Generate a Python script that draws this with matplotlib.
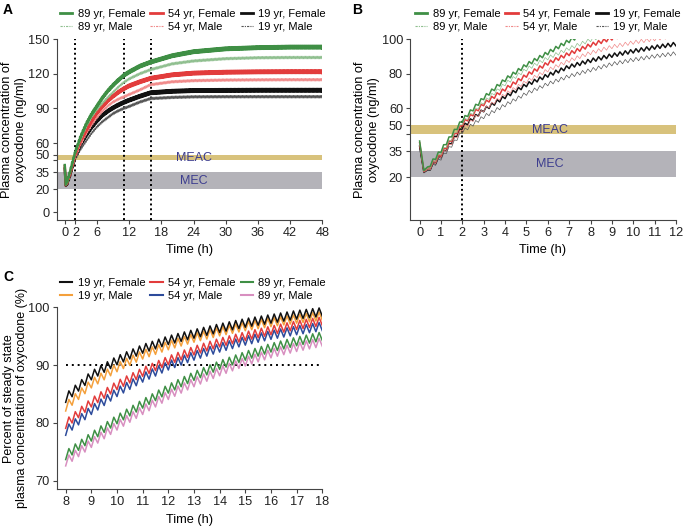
import numpy as np
import matplotlib
matplotlib.use("Agg")
import matplotlib.pyplot as plt
from matplotlib.lines import Line2D

plt.rcParams['font.family'] = ['Liberation Sans', 'DejaVu Sans']
plt.rcParams['font.size'] = 9.2

# 투여 간격 (h) - 그래프의 톱니 주기
dose_interval = 0.25

# A / B: 혈중 농도 (ng/ml), 그림에서 읽은 값
pk_time = [0, 0.2, 0.5, 1, 1.5, 2, 3, 4, 5, 6, 7, 8, 9, 10, 11, 12, 14, 16, 20, 24, 30, 36, 42, 48]
pk_89f = [41, 24, 27.5, 35.5, 44.5, 53, 66, 76.5, 85, 92, 99, 105, 110, 114.5, 118.5, 121.5, 126.5, 130, 135.5, 139, 141.5, 142.5, 143, 143]
pk_89m = [40, 23.5, 26.5, 34, 42.5, 51.5, 63.5, 74, 82.5, 89, 94.5, 99.5, 104, 108.5, 112.5, 115.5, 120, 123.5, 128.5, 131, 133, 133.8, 134, 134]
pk_54f = [40, 23.5, 26.5, 33.5, 42, 50.8, 62.5, 71, 79, 86, 91.5, 96.5, 100.5, 104, 107, 109.5, 113, 116, 119, 120.5, 121.3, 121.6, 121.7, 121.7]
pk_54m = [39, 23, 25.5, 32.5, 40, 47.8, 59, 68, 75.5, 82, 87.5, 92, 95.5, 98, 100, 102, 106, 110.5, 113, 114, 114.5, 114.7, 114.8, 114.8]
pk_19f = [38, 23, 25.5, 32.5, 40.5, 48.9, 59, 66.6, 73.5, 79, 84, 87.5, 90.5, 93, 95.2, 97.1, 100.5, 103.5, 104.8, 105.4, 105.6, 105.7, 105.7, 105.7]
pk_19m = [37, 22.5, 25, 31, 38.5, 46.4, 55, 61.8, 68.5, 74, 78.5, 82, 85.5, 88, 90, 91.7, 95.5, 98.5, 99.5, 100, 100.1, 100.1, 100.1, 100.1]
pk_swing = 2.2

meac_range = (45, 50)
mec_range = (20, 35)
a_marks = [2, 11, 16]
b_marks = [2]

# C: 정상상태 대비 % (8-18 h)
ss_time = [8, 9, 10, 11, 12, 13, 14, 15, 16, 17, 18]
ss_19f = [84.3, 88.2, 90.8, 92.8, 94.3, 95.4, 96.4, 97.3, 98.0, 98.7, 99.2]
ss_19m = [82.8, 86.8, 89.6, 91.8, 93.4, 94.7, 95.8, 96.7, 97.4, 98.0, 98.5]
ss_54f = [79.8, 83.5, 86.5, 88.8, 90.8, 92.5, 93.9, 95.0, 96.0, 96.9, 97.6]
ss_54m = [78.6, 82.2, 85.3, 87.8, 89.9, 91.6, 93.0, 94.2, 95.2, 96.0, 96.7]
ss_89f = [74.4, 77.6, 80.6, 83.3, 85.9, 88.1, 90.0, 91.6, 93.0, 94.1, 95.0]
ss_89m = [73.3, 76.5, 79.5, 82.2, 84.8, 87.0, 88.9, 90.6, 92.0, 93.1, 94.0]
ss_swing = 1.5
ss_mark = 90

green, red, black = '#3f8f45', '#e23c3c', '#111111'
green_m, red_m, black_m = '#8fbf8f', '#f08a8a', '#555555'
orange, blue, pink = '#f4a03c', '#2d4b9b', '#d88fc0'
meac_color, mec_color, band_text = '#d8c27c', '#b4b3b9', '#3d3d8f'


def sawtooth(times, values, t_end, swing, t_start=0.0, flat=0.5):
    """투여 간격마다 오르내리는 톱니 모양"""
    times = np.asarray(times, float)
    grid = np.arange(t_start, t_end + 1e-9, dose_interval / 2)
    t = np.union1d(grid, times[(times >= t_start) & (times <= t_end)])
    base = np.interp(t, times, values)
    sign = np.where(np.round(t / (dose_interval / 2)) % 2 == 0, -1.0, 1.0)
    sign[t < t_start + flat] = 0
    return t, base + sign * swing / 2


def style(ax):
    for s in ['top', 'right']:
        ax.spines[s].set_visible(False)
    for s in ['left', 'bottom']:
        ax.spines[s].set_color('#444444')
        ax.spines[s].set_linewidth(0.8)
    ax.tick_params(direction='out', length=3, width=0.8, colors='#444444',
                   labelcolor='#222222', labelsize=9.2, pad=2)


fig = plt.figure(figsize=(6.83, 5.26), dpi=100)
W, H = 683, 526


def px_axes(l, t, r, b):
    return fig.add_axes([l / W, 1 - b / H, (r - l) / W, (b - t) / H])


axA = px_axes(56.7, 39, 322.3, 220)
axB = px_axes(410, 39, 676, 220)
axC = px_axes(56.7, 307.3, 322.3, 489.3)

pk_series = [
    (pk_19m, black_m, False), (pk_19f, black, True),
    (pk_54m, red_m, False), (pk_54f, red, True),
    (pk_89m, green_m, False), (pk_89f, green, True),
]

# ---- A
style(axA)
axA.axhspan(*meac_range, color=meac_color, lw=0, zorder=0)
axA.axhspan(*mec_range, color=mec_color, lw=0, zorder=0)
axA.text(24, sum(meac_range) / 2, 'MEAC', ha='center', va='center', color=band_text, fontsize=9)
axA.text(24, sum(mec_range) / 2, 'MEC', ha='center', va='center', color=band_text, fontsize=9)
for x in a_marks:
    axA.axvline(x, color='k', ls=(0, (1, 1.5)), lw=1.4, zorder=1)
for vals, col, female in pk_series:
    t, y = sawtooth(pk_time, vals, 48, pk_swing)
    axA.plot(t, y, color=col, lw=1.8 if female else 0.7, zorder=2)
axA.set_xlim(-1.5, 48)
axA.set_ylim(-6.5, 150)
axA.set_xticks([0, 2, 6, 12, 18, 24, 30, 36, 42, 48])
axA.set_yticks([0, 20, 35, 45, 50, 60, 90, 120, 150])
axA.set_yticklabels(['0', '20', '35', '', '50', '60', '90', '120', '150'])
axA.set_xlabel('Time (h)')
axA.set_ylabel('Plasma concentration of\noxycodone (ng/ml)', labelpad=1)

# ---- B
style(axB)
axB.axhspan(*meac_range, color=meac_color, lw=0, zorder=0)
axB.axhspan(*mec_range, color=mec_color, lw=0, zorder=0)
axB.text(6.1, sum(meac_range) / 2, 'MEAC', ha='center', va='center', color=band_text, fontsize=9)
axB.text(6.1, sum(mec_range) / 2, 'MEC', ha='center', va='center', color=band_text, fontsize=9)
for x in b_marks:
    axB.axvline(x, color='k', ls=(0, (1, 1.5)), lw=1.4, zorder=1)
for vals, col, female in pk_series:
    t, y = sawtooth(pk_time, vals, 12, pk_swing)
    axB.plot(t, y, color=col, lw=1.1 if female else 0.5, zorder=2)
axB.set_xlim(-0.45, 12)
axB.set_ylim(-4.7, 100)
axB.set_xticks(range(0, 13))
axB.set_yticks([20, 35, 45, 50, 60, 80, 100])
axB.set_yticklabels(['20', '35', '', '50', '60', '80', '100'])
axB.set_xlabel('Time (h)')
axB.set_ylabel('Plasma concentration of\noxycodone (ng/ml)', labelpad=1)

# ---- C
style(axC)
axC.hlines(ss_mark, 8, 18, color='k', ls=(0, (1, 2)), lw=1.4, zorder=1)
ss_series = [
    (ss_89m, pink), (ss_89f, green), (ss_54m, blue),
    (ss_54f, red), (ss_19m, orange), (ss_19f, black),
]
for vals, col in ss_series:
    t, y = sawtooth(ss_time, vals, 18, ss_swing, t_start=8, flat=0)
    axC.plot(t, y, color=col, lw=1.1, zorder=2)
axC.set_xlim(7.65, 18)
axC.set_ylim(68.5, 100)
axC.set_xticks(range(8, 19))
axC.set_yticks([70, 80, 90, 100])
axC.set_xlabel('Time (h)')
axC.set_ylabel('Percent of steady state\nplasma concentration of oxycodone (%)',
               labelpad=0, fontsize=9)

# ---- 범례
leg_kw = dict(loc='upper left', ncol=3, frameon=False, fontsize=8, borderpad=0,
              borderaxespad=0, handlelength=1.1, handletextpad=0.5,
              columnspacing=0.45, labelspacing=0.25)
male_ls = (0, (2, 1, 1, 1))
hA = [Line2D([], [], color=green, lw=2), Line2D([], [], color=green_m, lw=0.8, ls=male_ls),
      Line2D([], [], color=red, lw=2), Line2D([], [], color=red_m, lw=0.8, ls=male_ls),
      Line2D([], [], color=black, lw=2), Line2D([], [], color=black_m, lw=0.8, ls=male_ls)]
labA = ['89 yr, Female', '89 yr, Male', '54 yr, Female', '54 yr, Male', '19 yr, Female', '19 yr, Male']
fig.legend(hA, labA, bbox_to_anchor=(60 / W, 1 - 9 / H), **leg_kw)
fig.legend(hA, labA, bbox_to_anchor=(415 / W, 1 - 9 / H), **leg_kw)

hC = [Line2D([], [], color=black, lw=1.5), Line2D([], [], color=orange, lw=1.5),
      Line2D([], [], color=red, lw=1.5), Line2D([], [], color=blue, lw=1.5),
      Line2D([], [], color=green, lw=1.5), Line2D([], [], color=pink, lw=1.5)]
labC = ['19 yr, Female', '19 yr, Male', '54 yr, Female', '54 yr, Male', '89 yr, Female', '89 yr, Male']
fig.legend(hC, labC, bbox_to_anchor=(60 / W, 1 - 278 / H), **leg_kw)

# 패널 라벨
fig.text(3 / W, 1 - 3 / H, 'A', fontsize=10, fontweight='bold', va='top')
fig.text(352 / W, 1 - 3 / H, 'B', fontsize=10, fontweight='bold', va='top')
fig.text(3 / W, 1 - 270 / H, 'C', fontsize=10, fontweight='bold', va='top')

fig.savefig('out.png', dpi=100)
